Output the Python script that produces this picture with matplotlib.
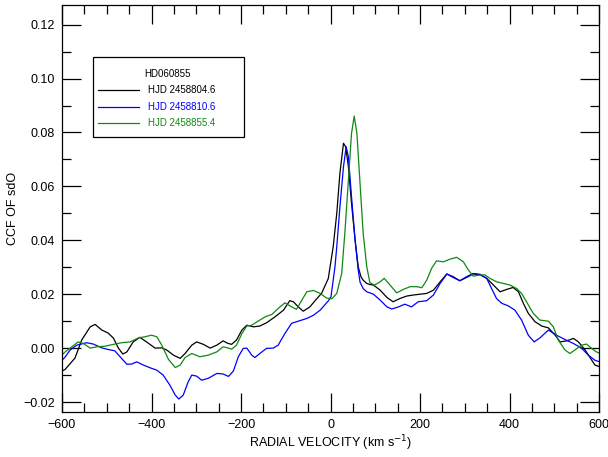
import matplotlib
matplotlib.use("Agg")
import matplotlib.pyplot as plt
from matplotlib.patches import Rectangle
from matplotlib.ticker import MultipleLocator

plt.rcParams['font.family'] = ['Liberation Sans', 'DejaVu Sans']

# CCF curves, radial velocity (km/s) vs correlation
v_804 = [-600, -593, -571, -556, -537, -526, -511, -497, -485, -474, -464, -455, -441, -426,
         -411, -392, -377, -366, -351, -336, -325, -310, -299, -284, -269, -254, -240, -230,
         -221, -210, -198, -187, -172, -158, -143, -124, -105, -91, -83, -72, -61, -46, -33,
         -20, -5, 6, 14, 21, 29, 34, 40, 47, 55, 62, 68, 73, 81, 88, 96, 111, 126, 140, 155,
         170, 185, 200, 215, 230, 245, 260, 274, 289, 304, 319, 334, 349, 364, 379, 394, 408,
         420, 431, 442, 457, 472, 487, 502, 513, 528, 543, 554, 569, 580, 591, 600]
ccf_804 = [-0.0085, -0.0079, -0.0037, 0.0030, 0.0079, 0.0088, 0.0067, 0.0056, 0.0037, 0.0000,
           -0.0022, -0.0014, 0.0023, 0.0040, 0.0023, 0.0000, 0.0001, -0.0007, -0.0026, -0.0038,
           -0.0020, 0.0011, 0.0023, 0.0014, 0.0000, 0.0011, 0.0027, 0.0018, 0.0014, 0.0030,
           0.0067, 0.0085, 0.0079, 0.0082, 0.0094, 0.0116, 0.0141, 0.0176, 0.0172, 0.0153,
           0.0137, 0.0153, 0.0179, 0.0203, 0.0258, 0.0376, 0.0500, 0.0648, 0.0760, 0.0747,
           0.0673, 0.0537, 0.0400, 0.0302, 0.0265, 0.0252, 0.0240, 0.0236, 0.0234, 0.0215,
           0.0188, 0.0172, 0.0184, 0.0193, 0.0197, 0.0200, 0.0203, 0.0215, 0.0246, 0.0275,
           0.0265, 0.0250, 0.0262, 0.0275, 0.0272, 0.0259, 0.0234, 0.0209, 0.0218, 0.0225,
           0.0209, 0.0166, 0.0129, 0.0098, 0.0082, 0.0075, 0.0048, 0.0023, 0.0027, 0.0036,
           0.0023, -0.0007, -0.0035, -0.0063, -0.0068]

v_810 = [-600, -593, -582, -567, -545, -530, -511, -497, -482, -467, -455, -444, -433, -418,
         -403, -388, -374, -359, -347, -339, -329, -318, -310, -299, -288, -273, -254, -240,
         -228, -217, -206, -195, -187, -176, -169, -158, -143, -128, -117, -102, -87, -72, -53,
         -38, -23, -5, 1, 6, 10, 14, 21, 29, 35, 40, 47, 55, 62, 66, 73, 81, 88, 96, 111, 126,
         137, 152, 166, 181, 196, 215, 230, 245, 260, 274, 289, 304, 319, 334, 349, 360, 371,
         383, 397, 412, 427, 442, 455, 468, 487, 505, 524, 543, 561, 576, 591, 600]
ccf_810 = [-0.0045, -0.0033, -0.0007, 0.0011, 0.0020, 0.0015, 0.0001, -0.0005, -0.0010, -0.0038,
           -0.0060, -0.0059, -0.0051, -0.0063, -0.0073, -0.0082, -0.0100, -0.0137, -0.0174,
           -0.0189, -0.0174, -0.0125, -0.0100, -0.0104, -0.0119, -0.0112, -0.0094, -0.0096,
           -0.0105, -0.0085, -0.0032, -0.0001, 0.0000, -0.0026, -0.0035, -0.0020, -0.0001,
           0.0000, 0.0011, 0.0054, 0.0092, 0.0100, 0.0110, 0.0122, 0.0141, 0.0175, 0.0190,
           0.0252, 0.0302, 0.0376, 0.0524, 0.0673, 0.0747, 0.0710, 0.0561, 0.0400, 0.0289,
           0.0245, 0.0221, 0.0209, 0.0205, 0.0200, 0.0178, 0.0153, 0.0145, 0.0153, 0.0163,
           0.0153, 0.0172, 0.0176, 0.0197, 0.0240, 0.0275, 0.0262, 0.0250, 0.0265, 0.0277,
           0.0274, 0.0259, 0.0221, 0.0184, 0.0166, 0.0157, 0.0141, 0.0104, 0.0048, 0.0023,
           0.0038, 0.0067, 0.0048, 0.0032, 0.0017, 0.0000, -0.0026, -0.0045, -0.0050]

v_855 = [-600, -593, -578, -564, -552, -537, -522, -504, -485, -467, -448, -429, -415, -400,
         -388, -377, -362, -347, -336, -325, -310, -292, -273, -254, -240, -228, -221, -210,
         -198, -187, -176, -161, -146, -131, -117, -102, -87, -76, -64, -53, -38, -23, -9, 3,
         14, 25, 32, 40, 47, 53, 59, 66, 73, 81, 88, 98, 111, 120, 133, 148, 163, 178, 193,
         204, 215, 226, 237, 252, 267, 282, 297, 308, 319, 334, 345, 356, 371, 386, 401, 416,
         427, 438, 453, 468, 487, 498, 509, 524, 535, 546, 561, 572, 583, 593, 600]
ccf_855 = [-0.0025, -0.0014, 0.0005, 0.0023, 0.0017, 0.0000, 0.0005, 0.0007, 0.0014, 0.0020,
           0.0023, 0.0038, 0.0042, 0.0048, 0.0042, 0.0011, -0.0042, -0.0072, -0.0063, -0.0035,
           -0.0020, -0.0032, -0.0026, -0.0014, 0.0005, 0.0000, -0.0004, 0.0011, 0.0054, 0.0082,
           0.0085, 0.0101, 0.0116, 0.0125, 0.0147, 0.0168, 0.0153, 0.0144, 0.0178, 0.0209,
           0.0214, 0.0203, 0.0186, 0.0183, 0.0203, 0.0277, 0.0426, 0.0623, 0.0797, 0.0861,
           0.0797, 0.0611, 0.0426, 0.0302, 0.0243, 0.0234, 0.0246, 0.0259, 0.0234, 0.0205,
           0.0218, 0.0228, 0.0228, 0.0224, 0.0252, 0.0296, 0.0324, 0.0320, 0.0330, 0.0337,
           0.0320, 0.0290, 0.0267, 0.0271, 0.0272, 0.0259, 0.0246, 0.0240, 0.0234, 0.0221,
           0.0203, 0.0172, 0.0129, 0.0104, 0.0100, 0.0079, 0.0030, -0.0007, -0.0020, -0.0007,
           0.0011, 0.0015, 0.0000, -0.0013, -0.0018]

star = "HD060855"
labels = ["HJD 2458804.6", "HJD 2458810.6", "HJD 2458855.4"]
colors = ["black", "#0000ff", "#118811"]

fig = plt.figure(figsize=(6.08, 4.57), dpi=100)
ax = fig.add_axes([62 / 608, 45 / 457, 537 / 608, 407 / 457])

for vv, cc, col in zip([v_804, v_810, v_855], [ccf_804, ccf_810, ccf_855], colors):
    ax.plot(vv, cc, color=col, lw=0.9)

ax.set_xlim(-600, 600)
ax.set_ylim(-0.0237, 0.1273)
ax.xaxis.set_major_locator(MultipleLocator(200))
ax.xaxis.set_minor_locator(MultipleLocator(50))
ax.yaxis.set_major_locator(MultipleLocator(0.02))
ax.yaxis.set_minor_locator(MultipleLocator(0.01))
ax.yaxis.set_major_formatter(lambda y, p: f"{y:.2f}".replace("-", "\u2212"))
ax.tick_params(which='both', direction='in', top=True, right=True, labelsize=9, width=0.9, pad=5)
ax.tick_params(which='major', length=13.5)
ax.tick_params(which='minor', length=6.5)
for s in ax.spines.values():
    s.set_linewidth(0.9)

ax.set_xlabel("RADIAL VELOCITY (km s$^{-1}$)", fontsize=9, labelpad=2)
ax.set_ylabel("CCF OF sdO", fontsize=9, labelpad=3)

# legend box drawn by hand
ax.add_patch(Rectangle((0.0577, 0.6757), 0.2812, 0.1965, transform=ax.transAxes,
                       fill=False, edgecolor='black', lw=0.9))
ax.text(0.1955, 0.8305, star, transform=ax.transAxes, fontsize=7, ha='center', va='center')
for ya, lab, col in zip([0.7912, 0.7494, 0.7101], labels, colors):
    ax.plot([0.0670, 0.1434], [ya, ya], color=col, lw=0.9, transform=ax.transAxes)
    ax.text(0.1601, ya, lab, color=col, transform=ax.transAxes, fontsize=7, va='center')

fig.savefig("out.png", dpi=100)
